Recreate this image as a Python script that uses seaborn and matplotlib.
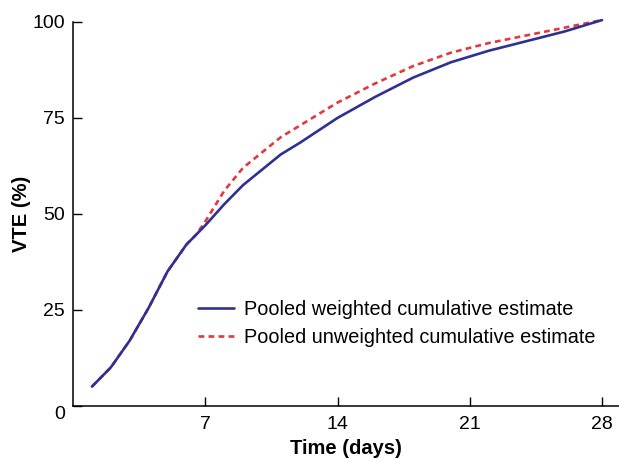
import pandas as pd
import matplotlib
matplotlib.use('Agg')
import matplotlib.pyplot as plt
import seaborn as sns

# values
days = [1, 2, 3, 4, 5, 6, 6.5, 7, 8, 9, 10, 11, 12, 14, 16, 18, 20, 22, 24, 26, 28]
weighted = [5, 10, 17, 25.5, 35, 42, 44.5, 47, 52.5, 57.5, 61.5, 65.5, 68.5,
            75, 80.5, 85.5, 89.5, 92.5, 95, 97.5, 100.5]
unweighted = [5, 10, 17, 25.5, 35, 42, 44.5, 48, 56, 62, 66, 70, 73,
              79, 84, 88.5, 92, 94.5, 96.5, 98.5, 100.5]
x_ticks = [7, 14, 21, 28]
y_ticks = [0, 25, 50, 75, 100]

df = pd.DataFrame({'days': days, 'weighted': weighted, 'unweighted': unweighted})

sns.set_style('ticks')
plt.rcParams['font.family'] = ['Liberation Sans', 'DejaVu Sans']
plt.rcParams['text.color'] = 'black'

fig = plt.figure(figsize=(6.19, 4.58), dpi=100)
ax = fig.add_axes([0.118, 0.114, 0.882, 0.838])

sns.lineplot(data=df, x='days', y='weighted', ax=ax, color='#2e3192', linewidth=1.9,
             label='Pooled weighted cumulative estimate', clip_on=False)
sns.lineplot(data=df, x='days', y='unweighted', ax=ax, color='#e0393e', linewidth=1.9,
             linestyle=(0, (2.2, 1.6)), label='Pooled unweighted cumulative estimate',
             clip_on=False)
# weighted line on top where the two overlap
ax.lines[0].set_zorder(3)

ax.set_xlim(0, 28.9)
ax.set_ylim(0, 100)
ax.set_xticks(x_ticks)
ax.set_yticks(y_ticks)
ax.tick_params(direction='in', length=6.5, width=1, labelsize=14, colors='black')
ax.tick_params(axis='x', pad=7)
ax.tick_params(axis='y', pad=6)
ax.get_yticklabels()[0].set_va('top')
for s in ['top', 'right']:
    ax.spines[s].set_visible(False)
for s in ['left', 'bottom']:
    ax.spines[s].set_linewidth(1.1)
    ax.spines[s].set_color('black')

ax.set_xlabel('Time (days)', fontsize=14.5, fontweight='bold', labelpad=4.5, color='black')
ax.set_ylabel('VTE (%)', fontsize=14.5, fontweight='bold', labelpad=1, color='black')

ax.legend(loc='lower left', bbox_to_anchor=(0.215, 0.132), frameon=False, fontsize=14.3,
          handlelength=1.8, handletextpad=0.5, labelspacing=0.45, borderaxespad=0)

fig.savefig('out.png', dpi=100)
